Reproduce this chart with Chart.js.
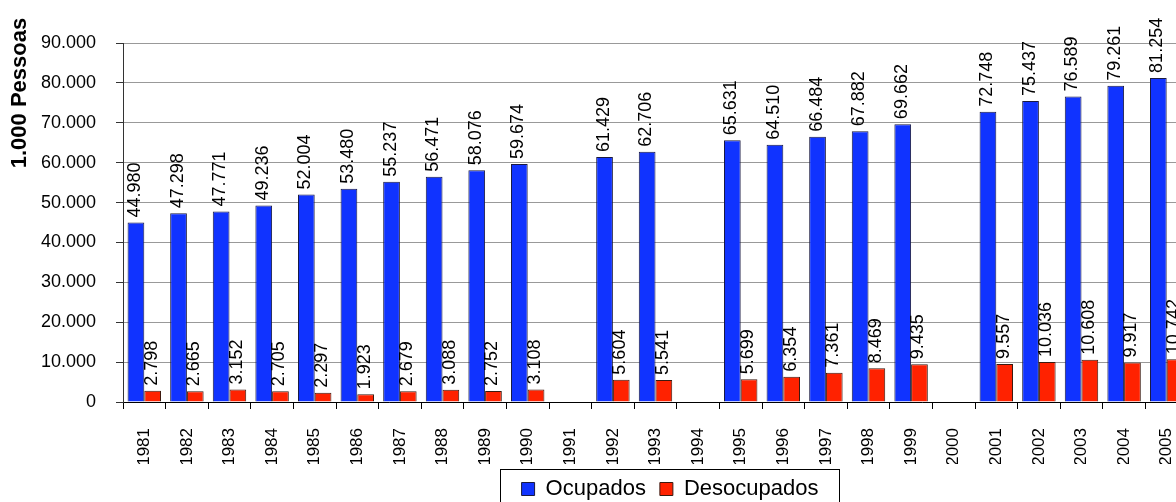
<!DOCTYPE html>
<html>
<head>
<meta charset="utf-8">
<script src="https://cdn.jsdelivr.net/npm/chart.js@4.4.0/dist/chart.umd.min.js"></script>
<style>
html, body { margin: 0; padding: 0; background: #fff; overflow: hidden; }
#wrap { width: 1340px; height: 502px; position: relative; }
</style>
</head>
<body>
<div id="wrap"><canvas id="myChart"></canvas></div>
<script>
const years = ['1981', '1982', '1983', '1984', '1985', '1986', '1987', '1988', '1989', '1990',
    '1991', '1992', '1993', '1994', '1995', '1996', '1997', '1998', '1999', '2000',
    '2001', '2002', '2003', '2004', '2005'];
const ocupados = [44980, 47298, 47771, 49236, 52004, 53480, 55237, 56471, 58076, 59674,
    null, 61429, 62706, null, 65631, 64510, 66484, 67882, 69662, null,
    72748, 75437, 76589, 79261, 81254];
const desocupados = [2798, 2665, 3152, 2705, 2297, 1923, 2679, 3088, 2752, 3108,
    null, 5604, 5541, null, 5699, 6354, 7361, 8469, 9435, null,
    9557, 10036, 10608, 9917, 10742];
const yTicks = [0, 10000, 20000, 30000, 40000, 50000, 60000, 70000, 80000, 90000];

const FONT = '"Liberation Sans", Arial, sans-serif';

// 44980 -> "44.980"
function fmt(v) {
    return String(v).replace(/\B(?=(\d{3})+(?!\d))/g, '.');
}

// rotated value labels above each bar
const barLabels = {
    id: 'barLabels',
    afterDatasetsDraw(chart) {
        const ctx = chart.ctx;
        ctx.save();
        ctx.font = '18px ' + FONT;
        ctx.fillStyle = '#000';
        ctx.textAlign = 'left';
        ctx.textBaseline = 'middle';
        chart.data.datasets.forEach((ds, i) => {
            chart.getDatasetMeta(i).data.forEach((bar, j) => {
                const v = ds.data[j];
                if (v == null) return;
                ctx.save();
                ctx.translate(bar.x - 1, bar.y - 5);
                ctx.rotate(-Math.PI / 2);
                ctx.fillText(fmt(v), 0, 0);
                ctx.restore();
            });
        });
        ctx.restore();
    }
};

// y axis title sitting at the top left
const axisTitle = {
    id: 'axisTitle',
    afterDraw(chart) {
        const ctx = chart.ctx;
        ctx.save();
        ctx.font = 'bold 22px ' + FONT;
        ctx.fillStyle = '#000';
        ctx.textAlign = 'center';
        ctx.textBaseline = 'middle';
        ctx.translate(20, 93);
        ctx.rotate(-Math.PI / 2);
        ctx.fillText('1.000 Pessoas', 0, 0);
        ctx.restore();
    }
};

// frame around the legend
const legendBox = {
    id: 'legendBox',
    afterDraw(chart) {
        const boxes = chart.legend.legendHitBoxes;
        if (!boxes || !boxes.length) return;
        const first = boxes[0], last = boxes[boxes.length - 1];
        const ctx = chart.ctx;
        ctx.save();
        ctx.strokeStyle = '#000';
        ctx.lineWidth = 1;
        const l = Math.round(first.left - 22) + 0.5;
        const r = Math.round(last.left + last.width + 21) + 0.5;
        const t = 469.5;
        ctx.strokeRect(l, t, r - l, 60);
        ctx.restore();
    }
};

const ctx = document.getElementById('myChart').getContext('2d');
const myChart = new Chart(ctx, {
    type: 'bar',
    data: {
        labels: years,
        datasets: [{
            label: 'Ocupados',
            data: ocupados,
            backgroundColor: 'rgb(16, 51, 255)',
            borderColor: '#1a1a40',
            borderWidth: 1
        }, {
            label: 'Desocupados',
            data: desocupados,
            backgroundColor: 'rgb(255, 34, 0)',
            borderColor: '#3a1a10',
            borderWidth: 1
        }]
    },
    options: {
        responsive: true,
        maintainAspectRatio: false,
        animation: false,
        categoryPercentage: 0.785,
        barPercentage: 1.0,
        layout: { padding: { top: 43, left: 0, right: 0, bottom: -8 } },
        plugins: {
            legend: {
                position: 'bottom',
                labels: {
                    boxWidth: 13,
                    boxHeight: 13,
                    padding: 14,
                    color: '#000',
                    font: { family: FONT, size: 22 }
                }
            },
            tooltip: { enabled: false }
        },
        scales: {
            x: {
                grid: { display: true, drawOnChartArea: false, offset: true, tickLength: 7, color: '#000' },
                border: { color: '#000' },
                ticks: {
                    autoSkip: false, minRotation: 90, maxRotation: 90,
                    color: '#000', padding: 19,
                    font: { family: FONT, size: 17 }
                },
                afterFit(s) { s.height = 62; }
            },
            y: {
                min: 0,
                max: 90000,
                afterBuildTicks(s) { s.ticks = yTicks.map(v => ({ value: v })); },
                ticks: {
                    color: '#000', padding: 20,
                    font: { family: FONT, size: 18 },
                    callback: v => fmt(v)
                },
                grid: { color: '#999', tickLength: 7, tickColor: '#333' },
                border: { color: '#333' },
                afterFit(s) { s.width = 123; }
            },
            y2: {
                position: 'right',
                grid: { display: false },
                ticks: { display: false },
                border: { display: false },
                afterFit(s) { s.width = 152; }
            }
        }
    },
    plugins: [barLabels, axisTitle, legendBox]
});
</script>
</body>
</html>
